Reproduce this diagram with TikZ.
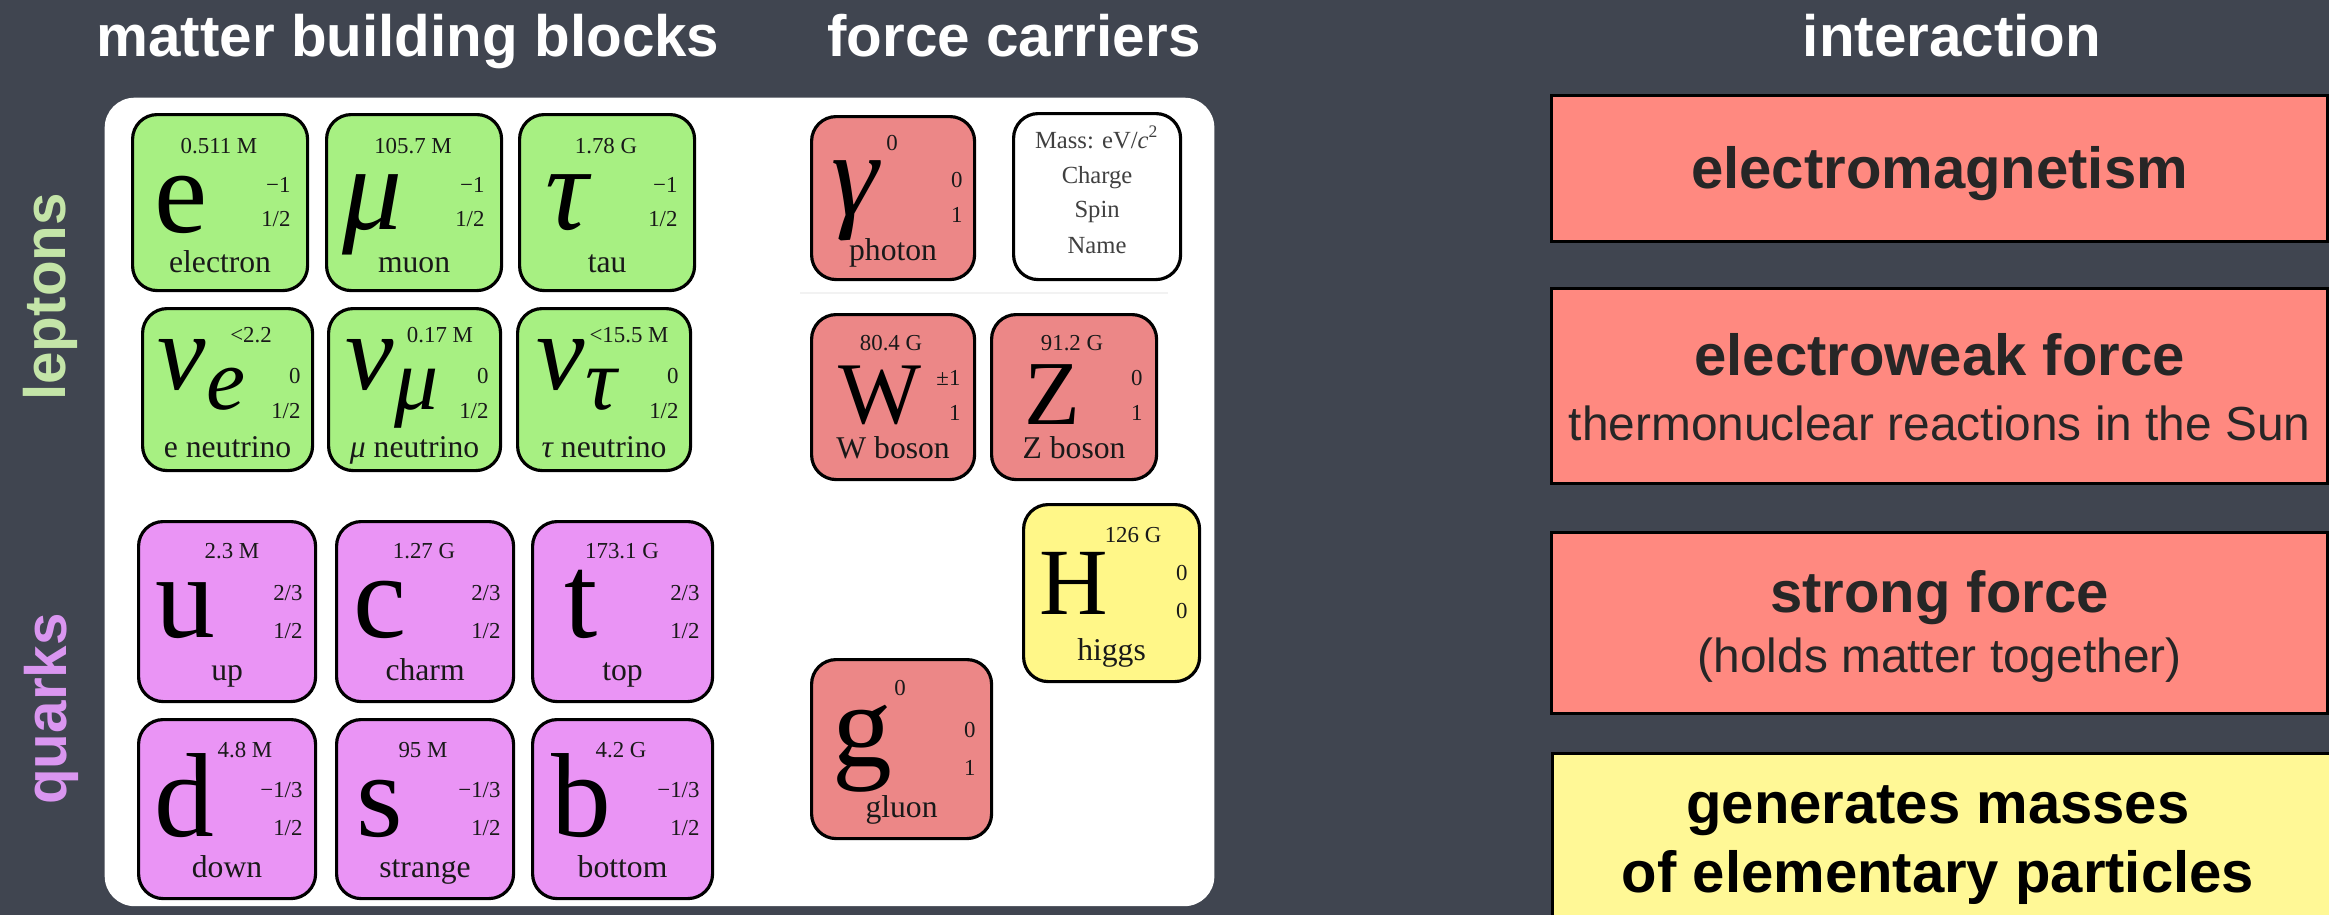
\documentclass[tikz,border=0pt]{standalone}
\usepackage{fontspec}
\setmainfont{Liberation Serif}
\newfontfamily\hv{Liberation Sans}
\usetikzlibrary{calc}
\definecolor{bg}{RGB}{64,69,80}
\definecolor{tgreen}{RGB}{167,240,130}
\definecolor{tpurple}{RGB}{234,148,245}
\definecolor{tred}{RGB}{236,135,135}
\definecolor{tyellow}{RGB}{255,247,136}
\definecolor{boxred}{RGB}{255,137,128}
\definecolor{boxyellow}{RGB}{255,248,150}
\definecolor{leptxt}{RGB}{196,229,168}
\definecolor{quarktxt}{RGB}{218,150,240}
\newcommand\tbox[6]{\node[tilebox,fill=#6,minimum width=#4*0.01cm,minimum height=#5*0.01cm,anchor=north west] (#1) at (#2,#3) {};}
\newcommand\tmass[4]{\node[tsmall,anchor=base] (#1-m) at ($(#1.north west)+(#2,#3)$) {#4};}
\newcommand\tcharge[6]{\node[tsmall,anchor=base east] (#1-c) at ($(#1.north east)+(-#2,#3)$) {#4};
  \node[tsmall,anchor=base east] (#1-s) at ($(#1.north east)+(-#2,#5)$) {#6};}
\newcommand\tsym[5]{\node[anchor=base,inner sep=0,font={\fontsize{#4}{#4}\selectfont}] (#1-y) at ($(#1.north west)+(#2,#3)$) {#5};}
\newcommand\tsymw[5]{\node[anchor=base west,inner sep=0,font={\fontsize{#4}{#4}\selectfont}] (#1-y) at ($(#1.north west)+(#2,#3)$) {#5};}
\newcommand\tname[3]{\node[tname,anchor=base] (#1-n) at ($(#1.north)+(0,#2)$) {#3};}
\begin{document}
\begin{tikzpicture}[x=0.01cm,y=-0.01cm,
  tilebox/.style={draw=black,line width=0.9pt,rounded corners=7pt,inner sep=0},
  tsmall/.style={inner sep=0,font=\fontsize{6.5}{7}\selectfont,text=black!90},
  tname/.style={inner sep=0,font=\fontsize{9}{10}\selectfont,text=black!90},
  hdr/.style={inner sep=0,anchor=base,text=white,font=\hv\bfseries\fontsize{16.6}{20}\selectfont},
  ibox/.style={draw=black,line width=0.8pt,inner sep=0,anchor=north west},
  btitle/.style={inner sep=0,anchor=base,text=black!85,font=\hv\bfseries\fontsize{16.5}{20}\selectfont},
  bsub/.style={inner sep=0,anchor=base,text=black!85,font=\hv\fontsize{13.6}{16}\selectfont},
  side/.style={inner sep=0,anchor=base,rotate=90,font=\hv\bfseries\fontsize{16.6}{20}\selectfont}]
\useasboundingbox (0,0) rectangle (2329,915);
\clip (0,0) rectangle (2329,915);
\fill[bg] (0,0) rectangle (2329,915);

% headers
\node[hdr] (h1) at (408,56) {matter building blocks};
\node[hdr] (h2) at (1014,56) {force carriers};
\node[hdr] (h3) at (1952,56) {interaction};
\node[side,text=leptxt] (lep) at (65,297) {leptons};
\node[side,text=quarktxt] (qua) at (66,709) {quarks};

% white panel
\node[fill=white,rounded corners=8.5pt,inner sep=0,minimum width=11.09cm,minimum height=8.08cm,anchor=north west] (panel) at (104,97) {};
\coordinate (sepL) at (800,293);
\coordinate (sepR) at (1168,293);
\draw[black!5,line width=0.6pt] (sepL) -- (sepR);

% leptons row 1
\tbox{e}{131}{113}{175}{176}{tgreen}
\tmass{e}{88}{40}{0.511 M}
\tcharge{e}{18}{79}{−1}{113}{1/2}
\tsym{e}{50}{119}{34}{e}
\tname{e}{159}{electron}

\tbox{mu}{325}{113}{175}{176}{tgreen}
\tmass{mu}{88}{40}{105.7 M}
\tcharge{mu}{18}{79}{−1}{113}{1/2}
\tsym{mu}{48}{116}{34}{\itshape μ}
\tname{mu}{159}{muon}

\tbox{tau}{518}{113}{175}{176}{tgreen}
\tmass{tau}{88}{40}{1.78 G}
\tcharge{tau}{18}{79}{−1}{113}{1/2}
\tsym{tau}{49}{116}{34}{\itshape τ}
\tname{tau}{159}{tau}

% neutrinos
\tbox{ne}{141}{307}{170}{162}{tgreen}
\tmass{ne}{110}{35}{<2.2}
\tcharge{ne}{13}{76}{0}{111}{1/2}
\tsymw{ne}{16}{82}{31}{\itshape ν\raisebox{-5.7pt}{\fontsize{25}{25}\selectfont e}}
\tname{ne}{150}{e neutrino}

\tbox{nm}{327}{307}{172}{162}{tgreen}
\tmass{nm}{113}{35}{0.17 M}
\tcharge{nm}{13}{76}{0}{111}{1/2}
\tsymw{nm}{18}{82}{31}{\itshape ν\raisebox{-5.7pt}{\fontsize{25}{25}\selectfont μ}}
\tname{nm}{150}{{\itshape μ} neutrino}

\tbox{nt}{516}{307}{173}{162}{tgreen}
\tmass{nt}{113}{35}{<15.5 M}
\tcharge{nt}{13}{76}{0}{111}{1/2}
\tsymw{nt}{20}{82}{31}{\itshape ν\raisebox{-5.7pt}{\fontsize{25}{25}\selectfont τ}}
\tname{nt}{150}{{\itshape τ} neutrino}

% quarks row 1
\tbox{u}{137}{520}{177}{180}{tpurple}
\tmass{u}{95}{38}{2.3 M}
\tcharge{u}{14}{80}{2/3}{118}{1/2}
\tsym{u}{48}{117}{34}{u}
\tname{u}{160}{up}

\tbox{c}{335}{520}{177}{180}{tpurple}
\tmass{c}{89}{38}{1.27 G}
\tcharge{c}{14}{80}{2/3}{118}{1/2}
\tsym{c}{45}{117}{34}{c}
\tname{c}{160}{charm}

\tbox{t}{531}{520}{180}{180}{tpurple}
\tmass{t}{91}{38}{173.1 G}
\tcharge{t}{14}{80}{2/3}{118}{1/2}
\tsym{t}{50}{117}{34}{t}
\tname{t}{160}{top}

% quarks row 2
\tbox{d}{137}{718}{177}{179}{tpurple}
\tmass{d}{108}{39}{4.8 M}
\tcharge{d}{14}{79}{−1/3}{117}{1/2}
\tsym{d}{47}{118}{34}{d}
\tname{d}{159}{down}

\tbox{s}{335}{718}{177}{179}{tpurple}
\tmass{s}{88}{39}{95 M}
\tcharge{s}{14}{79}{−1/3}{117}{1/2}
\tsym{s}{45}{118}{34}{s}
\tname{s}{159}{strange}

\tbox{b}{531}{718}{180}{179}{tpurple}
\tmass{b}{90}{39}{4.2 G}
\tcharge{b}{14}{79}{−1/3}{117}{1/2}
\tsym{b}{50}{118}{34}{b}
\tname{b}{159}{bottom}

% force carriers
\tbox{ga}{810}{115}{163}{163}{tred}
\tmass{ga}{82}{35}{0}
\tcharge{ga}{13}{72}{0}{107}{1}
\tsym{ga}{45}{100}{34}{\itshape γ}
\tname{ga}{145}{photon}

\tbox{leg}{1012}{112}{167}{166}{white}
\node[tsmall,anchor=base,text=black!75,font=\fontsize{7}{8}\selectfont] (leg-1) at ($(leg.north)+(0,36)$) {Mass: eV/\textit{c}\textsuperscript{2}};
\node[tsmall,anchor=base,text=black!75,font=\fontsize{7}{8}\selectfont] (leg-2) at ($(leg.north)+(0,71)$) {Charge};
\node[tsmall,anchor=base,text=black!75,font=\fontsize{7}{8}\selectfont] (leg-3) at ($(leg.north)+(0,105)$) {Spin};
\node[tsmall,anchor=base,text=black!75,font=\fontsize{7}{8}\selectfont] (leg-4) at ($(leg.north)+(0,141)$) {Name};

\tbox{W}{810}{313}{163}{165}{tred}
\tmass{W}{81}{37}{80.4 G}
\tcharge{W}{15}{72}{±1}{107}{1}
\tsym{W}{70}{110}{25}{W}
\tname{W}{145}{W boson}

\tbox{Z}{990}{313}{165}{165}{tred}
\tmass{Z}{82}{37}{91.2 G}
\tcharge{Z}{15}{72}{0}{107}{1}
\tsym{Z}{62}{111}{26}{Z}
\tname{Z}{145}{Z boson}

\tbox{H}{1022}{503}{176}{177}{tyellow}
\tmass{H}{111}{39}{126 G}
\tcharge{H}{13}{77}{0}{115}{0}
\tsym{H}{52}{111}{27}{H}
\tname{H}{157}{higgs}

\tbox{g}{810}{658}{180}{179}{tred}
\tmass{g}{90}{37}{0}
\tcharge{g}{17}{79}{0}{117}{1}
\tsym{g}{52}{108}{34}{g}
\tname{g}{159}{gluon}

% interaction boxes
\node[ibox,fill=boxred,minimum width=7.76cm,minimum height=1.46cm] (b1) at (1550,94) {};
\node[btitle] (b1-t) at ($(b1.north)+(0,95)$) {electromagnetism};

\node[ibox,fill=boxred,minimum width=7.76cm,minimum height=1.95cm] (b2) at (1550,287) {};
\node[btitle] (b2-t) at ($(b2.north)+(0,88)$) {electroweak force};
\node[bsub] (b2-s) at ($(b2.north)+(0,153)$) {thermonuclear reactions in the Sun};

\node[ibox,fill=boxred,minimum width=7.76cm,minimum height=1.81cm] (b3) at (1550,531) {};
\node[btitle] (b3-t) at ($(b3.north)+(0,81)$) {strong force};
\node[bsub] (b3-s) at ($(b3.north)+(0,141)$) {(holds matter together)};

\node[ibox,fill=boxyellow,minimum width=8cm,minimum height=2cm] (b4) at (1551,752) {};
\node[btitle,text=black] (b4-t) at (1938,823) {generates masses};
\node[btitle,text=black] (b4-s) at (1938,892) {of elementary particles};
\end{tikzpicture}
\end{document}
